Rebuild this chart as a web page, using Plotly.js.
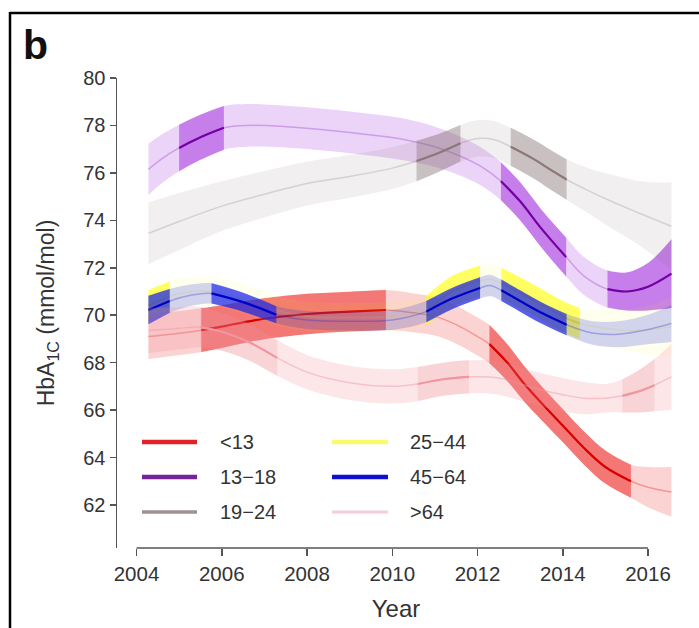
<!DOCTYPE html>
<html>
<head>
<meta charset="utf-8">
<script src="https://cdn.plot.ly/plotly-3.0.1.min.js"></script>
<style>
html,body{margin:0;padding:0;background:#ffffff;}
#chart{width:699px;height:628px;}
</style>
</head>
<body>
<div id="chart"></div>
<script>
// ---------- data ----------
const xTickVals = [2004, 2006, 2008, 2010, 2012, 2014, 2016];
const yTickVals = [62, 64, 66, 68, 70, 72, 74, 76, 78, 80];
const groupLabels = ['&lt;13', '13\u221218', '19\u221224', '25\u221244', '45\u221264', '&gt;64'];

// <13
const yrsLt13 = [2004.28, 2004.8, 2005.52, 2006.0, 2006.5, 2007.0, 2008.0, 2009.0, 2009.85, 2010.5, 2011.0, 2011.5, 2012.0, 2012.28, 2012.7, 2013.1, 2013.5, 2014.0, 2014.5, 2015.0, 2015.6, 2016.0, 2016.55];
const midLt13 = [69.1, 69.2, 69.37, 69.52, 69.7, 69.85, 70.05, 70.15, 70.22, 70.1, 69.95, 69.6, 69.1, 68.78, 68.0, 67.1, 66.3, 65.35, 64.4, 63.6, 63.0, 62.75, 62.55];
const hwLt13  = [0.95, 0.93, 0.92, 0.9, 0.88, 0.86, 0.85, 0.84, 0.84, 0.82, 0.81, 0.8, 0.8, 0.81, 0.78, 0.75, 0.72, 0.7, 0.7, 0.7, 0.7, 0.85, 1.05];
const sigLt13 = [[2005.52, 2009.85], [2012.28, 2015.6]];

// 13-18
const yrs13_18 = [2004.28, 2004.6, 2005.0, 2005.5, 2006.05, 2006.6, 2007.5, 2008.5, 2009.5, 2010.3, 2011.0, 2011.6, 2012.1, 2012.55, 2013.0, 2013.5, 2014.08, 2014.5, 2015.05, 2015.5, 2016.0, 2016.55];
const mid13_18 = [76.15, 76.6, 77.05, 77.5, 77.9, 78.0, 77.95, 77.8, 77.6, 77.4, 77.1, 76.7, 76.25, 75.65, 74.8, 73.65, 72.45, 71.65, 71.1, 71.0, 71.2, 71.75];
const hw13_18  = [1.08, 1.03, 0.98, 0.95, 0.92, 0.9, 0.88, 0.88, 0.88, 0.88, 0.85, 0.82, 0.8, 0.8, 0.8, 0.8, 0.82, 0.8, 0.78, 0.8, 1.0, 1.45];
const sig13_18 = [[2005.0, 2006.05], [2012.55, 2014.08], [2015.05, 2016.55]];

// 19-24
const yrs19_24 = [2004.28, 2005.0, 2006.0, 2007.0, 2008.0, 2009.0, 2010.0, 2010.57, 2011.1, 2011.6, 2012.0, 2012.4, 2012.78, 2013.3, 2013.7, 2014.09, 2014.6, 2015.2, 2015.8, 2016.55];
const mid19_24 = [73.45, 73.95, 74.6, 75.1, 75.55, 75.85, 76.2, 76.5, 76.85, 77.25, 77.45, 77.4, 77.1, 76.6, 76.15, 75.72, 75.25, 74.75, 74.3, 73.75];
const hw19_24  = [1.3, 1.2, 1.05, 0.98, 0.92, 0.9, 0.88, 0.85, 0.8, 0.77, 0.77, 0.78, 0.8, 0.82, 0.84, 0.85, 0.95, 1.15, 1.35, 1.85];
const sig19_24 = [[2010.57, 2011.6], [2012.78, 2014.09]];

// 25-44
const yrs25_44 = [2004.28, 2004.78, 2005.3, 2005.8, 2006.5, 2007.3, 2008.0, 2009.0, 2010.0, 2010.8, 2011.4, 2012.06, 2012.3, 2012.56, 2013.0, 2013.5, 2014.0, 2014.4, 2015.0, 2015.6, 2016.1, 2016.55];
const mid25_44 = [70.42, 70.8, 71.0, 71.0, 70.7, 70.2, 69.95, 69.9, 69.95, 70.2, 71.0, 71.45, 71.5, 71.35, 70.95, 70.45, 69.95, 69.65, 69.45, 69.35, 69.4, 69.5];
const hw25_44  = [0.65, 0.62, 0.62, 0.62, 0.62, 0.62, 0.62, 0.62, 0.62, 0.62, 0.65, 0.65, 0.65, 0.65, 0.65, 0.65, 0.65, 0.66, 0.75, 0.9, 1.05, 1.25];
const sig25_44 = [[2004.28, 2004.78], [2010.8, 2012.06], [2012.56, 2014.4]];

// 45-64
const yrs45_64 = [2004.28, 2004.78, 2005.3, 2005.76, 2006.5, 2007.28, 2008.0, 2009.0, 2010.0, 2010.8, 2011.4, 2012.06, 2012.3, 2012.56, 2013.0, 2013.5, 2014.09, 2014.7, 2015.3, 2016.0, 2016.55];
const mid45_64 = [70.22, 70.6, 70.85, 70.92, 70.55, 70.02, 69.8, 69.75, 69.8, 70.15, 70.7, 71.15, 71.25, 71.05, 70.6, 70.1, 69.6, 69.25, 69.2, 69.4, 69.65];
const hw45_64  = [0.6, 0.5, 0.45, 0.43, 0.4, 0.36, 0.38, 0.4, 0.42, 0.45, 0.45, 0.45, 0.45, 0.45, 0.45, 0.45, 0.45, 0.5, 0.55, 0.62, 0.78];
const sig45_64 = [[2004.28, 2004.78], [2005.76, 2007.28], [2010.8, 2012.06], [2012.56, 2014.09]];

// >64
const yrsGt64 = [2004.28, 2005.0, 2005.5, 2006.0, 2006.6, 2007.3, 2008.0, 2009.0, 2010.0, 2010.6, 2011.2, 2011.8, 2012.5, 2013.0, 2013.5, 2014.0, 2014.5, 2015.0, 2015.4, 2015.8, 2016.15, 2016.55];
const midGt64 = [69.35, 69.45, 69.5, 69.3, 68.9, 68.2, 67.6, 67.15, 67.0, 67.1, 67.3, 67.4, 67.35, 67.1, 66.85, 66.65, 66.5, 66.5, 66.6, 66.8, 67.05, 67.4];
const hwGt64  = [0.95, 0.9, 0.85, 0.8, 0.78, 0.75, 0.72, 0.72, 0.72, 0.72, 0.7, 0.7, 0.7, 0.7, 0.7, 0.7, 0.68, 0.6, 0.7, 0.9, 1.1, 1.4];
const sigGt64 = [[2005.5, 2007.3], [2010.6, 2011.8], [2015.4, 2016.15]];

// ---------- styling ----------
const series = [
  {yrs: yrsLt13,  mid: midLt13,  hw: hwLt13,  sig: sigLt13,  rgb: '235,35,30',  lightA: 0.2,  darkA: 0.52, line: 'rgb(215,0,0)',    lineA: 'rgba(230,40,35,0.35)'},
  {yrs: yrs13_18, mid: mid13_18, hw: hw13_18, sig: sig13_18, rgb: '160,40,220', lightA: 0.2,  darkA: 0.5,  line: 'rgb(115,0,165)',   lineA: 'rgba(140,30,200,0.3)'},
  {yrs: yrs19_24, mid: mid19_24, hw: hw19_24, sig: sig19_24, rgb: '120,100,100',lightA: 0.1,  darkA: 0.33, line: 'rgb(140,120,120)', lineA: 'rgba(140,120,120,0.25)'},
  {yrs: yrs25_44, mid: mid25_44, hw: hw25_44, sig: sig25_44, rgb: '255,255,0',  lightA: 0.07, darkA: 0.58, line: 'rgb(240,240,40)',  lineA: 'rgba(240,240,40,0.2)'},
  {yrs: yrs45_64, mid: mid45_64, hw: hw45_64, sig: sig45_64, rgb: '30,40,230',  lightA: 0.2,  darkA: 0.68, line: 'rgb(0,0,200)',     lineA: 'rgba(40,40,200,0.3)'},
  {yrs: yrsGt64,  mid: midGt64,  hw: hwGt64,  sig: sigGt64,  rgb: '240,140,150',lightA: 0.22, darkA: 0.2,  line: 'rgb(240,150,160)', lineA: 'rgba(240,150,160,0.45)'}
];
const legendLine = [
  {color: 'rgb(225,35,40)',  width: 4.5},
  {color: 'rgb(115,35,155)', width: 4.5},
  {color: 'rgb(160,145,145)',width: 3.5},
  {color: 'rgb(250,250,110)',width: 4.5},
  {color: 'rgb(15,15,205)',  width: 4.5},
  {color: 'rgb(245,205,215)',width: 3}
];

// ---------- geometry ----------
const W = 699, H = 628;
const L = 117, R = 675, T = 78, B = 548;
const pxPerUnitY = 23.72, pxPerYear = 42.625, x2004px = 136.5;
const xRange = [2004 - (x2004px - L) / pxPerYear, 2004 + (R - x2004px) / pxPerYear];
const yRange = [80 - (B - T) / pxPerUnitY, 80];
const px = v => (v - L) / (R - L);
const py = v => (B - v) / (B - T);

// ---------- traces ----------
const traces = [];
const SM = 1.0;
function addBand(xs, lo, hi, fill) {
  traces.push({x: xs, y: lo, type: 'scatter', mode: 'lines', line: {width: 0, shape: 'spline', smoothing: SM}, hoverinfo: 'skip', showlegend: false});
  traces.push({x: xs, y: hi, type: 'scatter', mode: 'lines', fill: 'tonexty', fillcolor: fill, line: {width: 0, shape: 'spline', smoothing: SM}, hoverinfo: 'skip', showlegend: false});
}
function addLine(xs, ys, color, width) {
  traces.push({x: xs, y: ys, type: 'scatter', mode: 'lines', line: {color: color, width: width, shape: 'spline', smoothing: SM}, hoverinfo: 'skip', showlegend: false});
}
series.forEach(s => {
  const lo = s.mid.map((m, i) => m - s.hw[i]);
  const hi = s.mid.map((m, i) => m + s.hw[i]);
  addBand(s.yrs, lo, hi, 'rgba(' + s.rgb + ',' + s.lightA + ')');
  addLine(s.yrs, s.mid, s.lineA, 1.5);
  const segIdx = s.sig.map(seg => s.yrs.map((y, i) => i).filter(i => s.yrs[i] >= seg[0] - 1e-6 && s.yrs[i] <= seg[1] + 1e-6));
  segIdx.forEach(idx => {
    addBand(idx.map(i => s.yrs[i]), idx.map(i => lo[i]), idx.map(i => hi[i]), 'rgba(' + s.rgb + ',' + s.darkA + ')');
  });
  segIdx.forEach(idx => {
    addLine(idx.map(i => s.yrs[i]), idx.map(i => s.mid[i]), s.line, 2.2);
  });
});

// ---------- decorations: frame, panel letter, legend ----------
const FONT = 'Liberation Sans, Arial, Helvetica, sans-serif';
const shapes = [
  {type: 'line', xref: 'x', yref: 'paper', x0: xTickVals[0], x1: xTickVals[xTickVals.length - 1], y0: 0, y1: 0, line: {color: '#555555', width: 1.5}},
  {type: 'line', xref: 'paper', yref: 'paper', x0: px(10), x1: px(W + 5), y0: py(13), y1: py(13), line: {color: '#000000', width: 2.5}},
  {type: 'line', xref: 'paper', yref: 'paper', x0: px(10), x1: px(10), y0: py(12), y1: py(H + 5), line: {color: '#000000', width: 2.5}}
];
const annotations = [
  {xref: 'paper', yref: 'paper', x: px(35), y: py(45), text: '<b>b</b>', showarrow: false, font: {family: FONT, size: 41, color: '#111111'}, xanchor: 'center', yanchor: 'middle'}
];
const legX = [[142, 197, 218], [332, 388, 408]];
const legY = [442, 477, 512];
groupLabels.forEach((lab, i) => {
  const col = i < 3 ? 0 : 1, row = i % 3;
  const yy = legY[row];
  shapes.push({type: 'line', xref: 'paper', yref: 'paper', x0: px(legX[col][0]), x1: px(legX[col][1]), y0: py(yy), y1: py(yy), line: {color: legendLine[i].color, width: legendLine[i].width}});
  annotations.push({xref: 'paper', yref: 'paper', x: px(legX[col][2]), y: py(yy), text: lab, showarrow: false, xanchor: 'left', yanchor: 'middle', font: {family: FONT, size: 20, color: '#333333'}});
});

const layout = {
  width: W, height: H,
  margin: {l: L, r: W - R, t: T, b: H - B, pad: 0},
  paper_bgcolor: '#ffffff', plot_bgcolor: '#ffffff',
  showlegend: false,
  font: {family: FONT, color: '#333333'},
  xaxis: {
    range: xRange, tickvals: xTickVals, ticktext: xTickVals.map(String),
    ticks: 'outside', ticklen: 7, tickwidth: 1.5, tickcolor: '#555555',
    showline: false, showgrid: false, zeroline: false,
    tickfont: {family: FONT, size: 20.5, color: '#333333'},
    title: {text: 'Year', font: {family: FONT, size: 24, color: '#333333'}, standoff: 16}
  },
  yaxis: {
    range: yRange, tickvals: yTickVals, ticktext: yTickVals.map(String),
    ticks: 'outside', ticklen: 6, tickwidth: 1.5, tickcolor: '#555555',
    showline: true, linecolor: '#555555', linewidth: 1.5,
    showgrid: false, zeroline: false,
    tickfont: {family: FONT, size: 20, color: '#333333'},
    title: {text: 'HbA<sub>1C</sub> (mmol/mol)', font: {family: FONT, size: 23, color: '#333333'}, standoff: 22}
  },
  shapes: shapes,
  annotations: annotations
};

Plotly.newPlot('chart', traces, layout, {staticPlot: true, displayModeBar: false});
</script>
</body>
</html>
